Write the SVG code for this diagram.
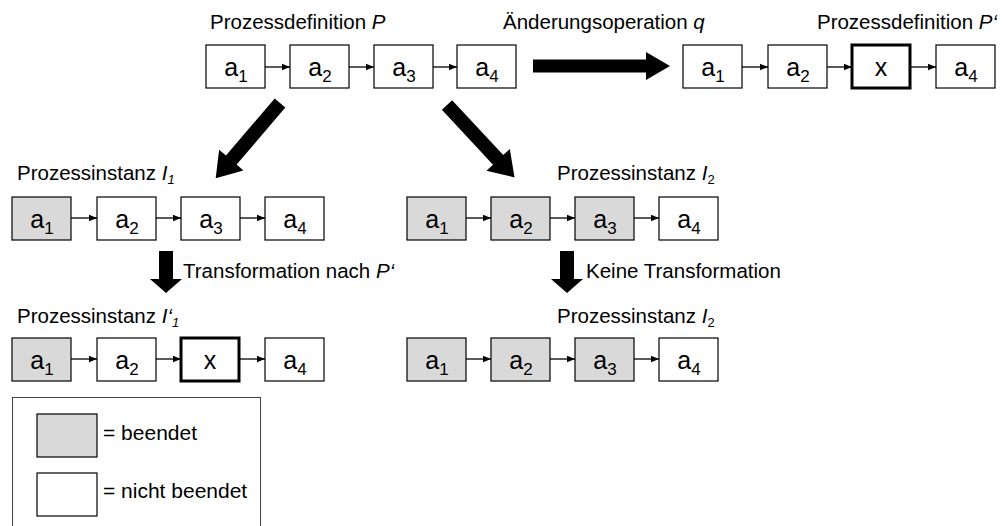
<svg xmlns="http://www.w3.org/2000/svg" width="1002" height="526" viewBox="0 0 1002 526">
  <style>
    .txt { font-family: "Liberation Sans", Arial, sans-serif; font-size: 20.5px; fill: #000; }
    .it { font-style: italic; }
    .sub { font-size: 13px; }
    .lbl { font-family: "Liberation Sans", Arial, sans-serif; font-size: 25px; fill: #000; text-anchor: middle; }
    .lsub { font-size: 17px; }
    .box { fill: #fff; stroke: #000; stroke-width: 1.2; }
    .done { fill: #d9d9d9; }
    .thick { stroke-width: 3; }
    .link { stroke: #000; stroke-width: 1.3; fill: none; marker-end: url(#tip); }
    .big { fill: #000; }
  </style>
  <defs>
    <marker id="tip" viewBox="0 0 8 8" refX="8" refY="4" markerWidth="8" markerHeight="8" markerUnits="userSpaceOnUse" orient="auto">
      <path d="M0,0.8 L8,4 L0,7.2 Z" fill="#000"/>
    </marker>
    <!-- thick block arrow pointing along +x, length 99 -->
    <path id="blockArrow" d="M0,-7 H75 V-16 L99,0 L75,16 V7 H0 Z"/>
  </defs>

  <rect width="1002" height="526" fill="#fff"/>

  <!-- headings -->
  <g id="labels">
    <text class="txt" x="210" y="29">Prozessdefinition <tspan class="it">P</tspan></text>
    <text class="txt" x="503" y="29">Änderungsoperation <tspan class="it">q</tspan></text>
    <text class="txt" x="997" y="29" text-anchor="end">Prozessdefinition <tspan class="it">P‘</tspan></text>
    <text class="txt" x="17" y="180">Prozessinstanz <tspan class="it">I</tspan><tspan class="it sub" dy="4">1</tspan></text>
    <text class="txt" x="557" y="180">Prozessinstanz <tspan class="it">I</tspan><tspan class="sub" dy="4">2</tspan></text>
    <text class="txt" x="183" y="278">Transformation nach <tspan class="it">P‘</tspan></text>
    <text class="txt" x="586" y="278">Keine Transformation</text>
    <text class="txt" x="17" y="323">Prozessinstanz <tspan class="it">I‘</tspan><tspan class="it sub" dy="4">1</tspan></text>
    <text class="txt" x="557" y="323">Prozessinstanz <tspan class="it">I</tspan><tspan class="sub" dy="4">2</tspan></text>
  </g>

  <!-- process definition P -->
  <g id="P-a1"><rect class="box" x="206" y="45" width="59" height="43"/><text class="lbl" x="236" y="76">a<tspan class="lsub" dy="6">1</tspan></text></g>
  <g id="P-a2"><rect class="box" x="290" y="45" width="59" height="43"/><text class="lbl" x="320" y="76">a<tspan class="lsub" dy="6">2</tspan></text></g>
  <g id="P-a3"><rect class="box" x="374" y="45" width="59" height="43"/><text class="lbl" x="404" y="76">a<tspan class="lsub" dy="6">3</tspan></text></g>
  <g id="P-a4"><rect class="box" x="457" y="45" width="59" height="43"/><text class="lbl" x="487" y="76">a<tspan class="lsub" dy="6">4</tspan></text></g>

  <!-- process definition P' -->
  <g id="P2-a1"><rect class="box" x="683" y="45" width="59" height="43"/><text class="lbl" x="713" y="76">a<tspan class="lsub" dy="6">1</tspan></text></g>
  <g id="P2-a2"><rect class="box" x="768" y="45" width="59" height="43"/><text class="lbl" x="798" y="76">a<tspan class="lsub" dy="6">2</tspan></text></g>
  <g id="P2-x"><rect class="box thick" x="852" y="45" width="58" height="43"/><text class="lbl" x="881" y="76">x</text></g>
  <g id="P2-a4"><rect class="box" x="936" y="45" width="59" height="43"/><text class="lbl" x="966" y="76">a<tspan class="lsub" dy="6">4</tspan></text></g>

  <!-- instance I1 -->
  <g id="I1-a1"><rect class="box done" x="12" y="197" width="59" height="43"/><text class="lbl" x="42" y="228">a<tspan class="lsub" dy="6">1</tspan></text></g>
  <g id="I1-a2"><rect class="box" x="97" y="197" width="59" height="43"/><text class="lbl" x="127" y="228">a<tspan class="lsub" dy="6">2</tspan></text></g>
  <g id="I1-a3"><rect class="box" x="181" y="197" width="59" height="43"/><text class="lbl" x="211" y="228">a<tspan class="lsub" dy="6">3</tspan></text></g>
  <g id="I1-a4"><rect class="box" x="265" y="197" width="59" height="43"/><text class="lbl" x="295" y="228">a<tspan class="lsub" dy="6">4</tspan></text></g>

  <!-- instance I2 -->
  <g id="I2-a1"><rect class="box done" x="407" y="197" width="59" height="43"/><text class="lbl" x="437" y="228">a<tspan class="lsub" dy="6">1</tspan></text></g>
  <g id="I2-a2"><rect class="box done" x="491" y="197" width="59" height="43"/><text class="lbl" x="521" y="228">a<tspan class="lsub" dy="6">2</tspan></text></g>
  <g id="I2-a3"><rect class="box done" x="575" y="197" width="59" height="43"/><text class="lbl" x="605" y="228">a<tspan class="lsub" dy="6">3</tspan></text></g>
  <g id="I2-a4"><rect class="box" x="659" y="197" width="59" height="43"/><text class="lbl" x="689" y="228">a<tspan class="lsub" dy="6">4</tspan></text></g>

  <!-- instance I'1 (migrated) -->
  <g id="I1m-a1"><rect class="box done" x="12" y="338" width="59" height="43"/><text class="lbl" x="42" y="369">a<tspan class="lsub" dy="6">1</tspan></text></g>
  <g id="I1m-a2"><rect class="box" x="97" y="338" width="59" height="43"/><text class="lbl" x="127" y="369">a<tspan class="lsub" dy="6">2</tspan></text></g>
  <g id="I1m-x"><rect class="box thick" x="181" y="338" width="58" height="43"/><text class="lbl" x="210" y="369">x</text></g>
  <g id="I1m-a4"><rect class="box" x="265" y="338" width="59" height="43"/><text class="lbl" x="295" y="369">a<tspan class="lsub" dy="6">4</tspan></text></g>

  <!-- instance I2 (unchanged) -->
  <g id="I2u-a1"><rect class="box done" x="407" y="338" width="59" height="43"/><text class="lbl" x="437" y="369">a<tspan class="lsub" dy="6">1</tspan></text></g>
  <g id="I2u-a2"><rect class="box done" x="491" y="338" width="59" height="43"/><text class="lbl" x="521" y="369">a<tspan class="lsub" dy="6">2</tspan></text></g>
  <g id="I2u-a3"><rect class="box done" x="575" y="338" width="59" height="43"/><text class="lbl" x="605" y="369">a<tspan class="lsub" dy="6">3</tspan></text></g>
  <g id="I2u-a4"><rect class="box" x="659" y="338" width="59" height="43"/><text class="lbl" x="689" y="369">a<tspan class="lsub" dy="6">4</tspan></text></g>

  <!-- legend -->
  <g id="legend">
    <rect x="12.5" y="397.5" width="248" height="140" fill="#fff" stroke="#444" stroke-width="1"/>
    <rect class="box done" x="37" y="414" width="60" height="43"/>
    <text class="txt" x="103" y="440" style="font-size:21px">= beendet</text>
    <rect class="box" x="37" y="473" width="60" height="43"/>
    <text class="txt" x="103" y="498" style="font-size:21px">= nicht beendet</text>
  </g>

  <!-- connectors -->
  <g id="connectors">
    <line class="link" x1="265" y1="67" x2="290" y2="67"/>
    <line class="link" x1="349" y1="67" x2="374" y2="67"/>
    <line class="link" x1="433" y1="67" x2="457" y2="67"/>

    <line class="link" x1="742" y1="67" x2="768" y2="67"/>
    <line class="link" x1="827" y1="67" x2="852" y2="67"/>
    <line class="link" x1="910" y1="67" x2="936" y2="67"/>

    <line class="link" x1="71" y1="218" x2="97" y2="218"/>
    <line class="link" x1="156" y1="218" x2="181" y2="218"/>
    <line class="link" x1="240" y1="218" x2="265" y2="218"/>

    <line class="link" x1="466" y1="218" x2="491" y2="218"/>
    <line class="link" x1="550" y1="218" x2="575" y2="218"/>
    <line class="link" x1="634" y1="218" x2="659" y2="218"/>

    <line class="link" x1="71" y1="359" x2="97" y2="359"/>
    <line class="link" x1="156" y1="359" x2="181" y2="359"/>
    <line class="link" x1="239" y1="359" x2="265" y2="359"/>

    <line class="link" x1="466" y1="359" x2="491" y2="359"/>
    <line class="link" x1="550" y1="359" x2="575" y2="359"/>
    <line class="link" x1="634" y1="359" x2="659" y2="359"/>

    <!-- change operation q -->
    <path class="big" d="M533,59.5 H646 V52 L670,66 L646,80 V72.5 H533 Z"/>
    <!-- derivation of the instances -->
    <use href="#blockArrow" class="big" transform="translate(280,103) rotate(130.5)"/>
    <use href="#blockArrow" class="big" transform="translate(447,105) rotate(47)"/>
    <!-- migration / no migration -->
    <path class="big" d="M159,251 V279 H150 L166,293 L182,279 H173 V251 Z"/>
    <path class="big" d="M560,251 V279 H551 L567,293 L583,279 H574 V251 Z"/>
  </g>
</svg>
